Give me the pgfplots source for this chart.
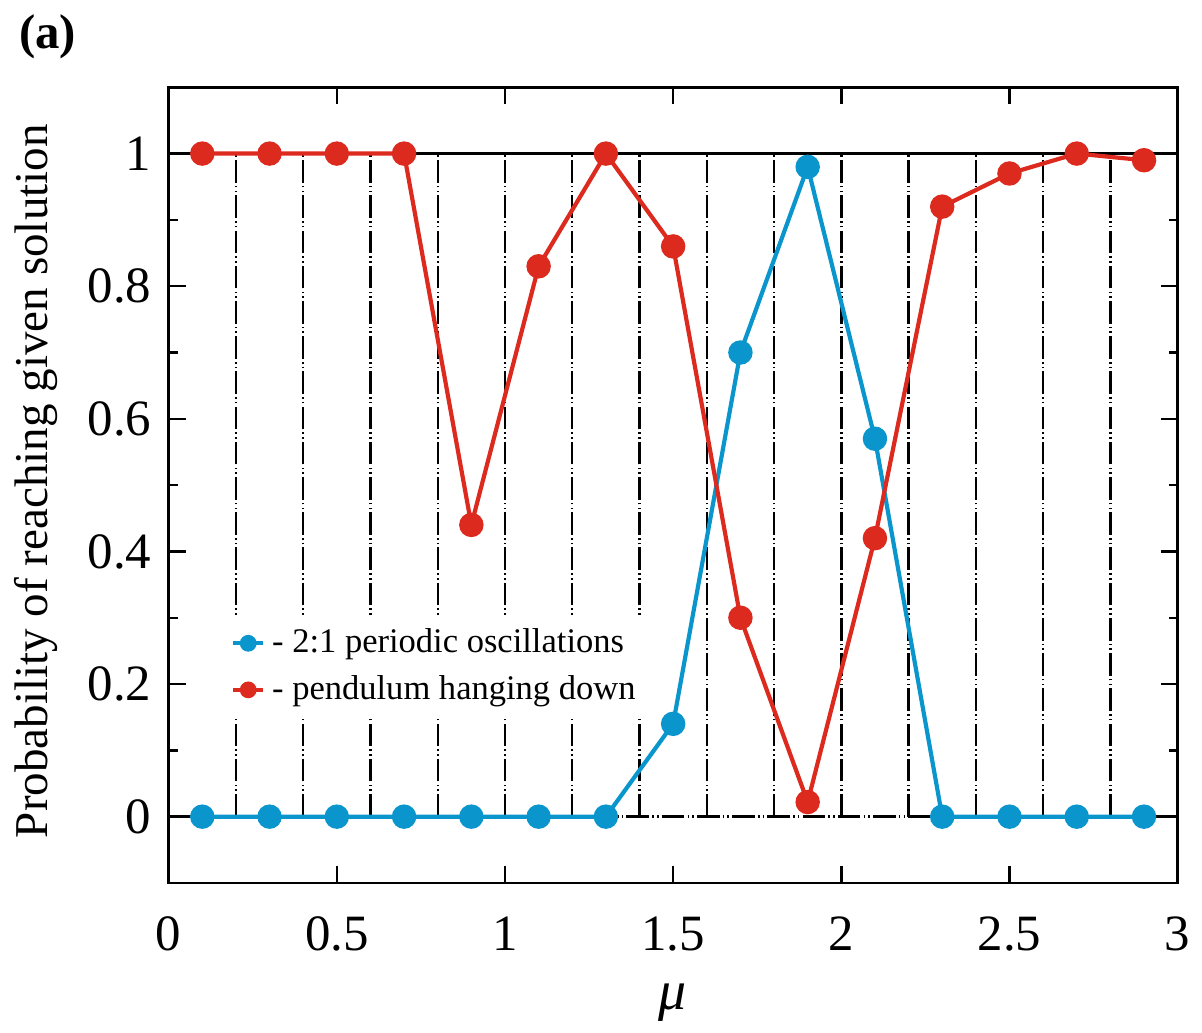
\documentclass[border=0pt]{standalone}
\usepackage{fontspec}
\setmainfont{Liberation Serif}
\usepackage{pgfplots}
\pgfplotsset{compat=1.18}
\definecolor{cblue}{RGB}{10,150,205}
\definecolor{cred}{RGB}{220,42,30}
\begin{document}
\begin{tikzpicture}
\begin{axis}[
  width=10.17cm, height=8.02cm, scale only axis,
  xmin=0, xmax=3, ymin=-0.1, ymax=1.1,
  xtick={0,0.5,1,1.5,2,2.5,3},
  xticklabels={0,0.5,1,1.5,2,2.5,3},
  ytick={0,0.2,0.4,0.6,0.8,1},
  yticklabels={0,0.2,0.4,0.6,0.8,1},
  minor ytick={-0.1,0.1,0.3,0.5,0.7,0.9,1.1},
  tick align=inside,
  major tick length=0.17cm, minor tick length=0.09cm,
  tick style={black, line width=0.7pt},
  axis line style={black, line width=0.8pt},
  ticklabel style={font=\fontsize{14.6}{16}\selectfont},
  yticklabel style={xshift=-0.05cm},
  xticklabel style={yshift=-0.22cm},
  xlabel={\textit{μ}},
  ylabel={Probability of reaching given solution},
  xlabel style={font=\fontsize{16}{18}\selectfont, at={(axis description cs:0.4995,-0.15)}, anchor=center},
  ylabel style={font=\fontsize{13.5}{16}\selectfont, at={(axis description cs:-0.1318,0.505)}, anchor=center},
  legend style={draw=none, fill=white, at={(axis description cs:0.051,0.338)}, anchor=north west,
     font=\fontsize{9.9}{12}\selectfont, row sep=1pt, inner xsep=3pt, inner ysep=2pt},
  legend cell align=left,
  legend image code/.code={
     \draw[#1, mark=none, line width=1.2pt] (0cm,0cm) -- (0.30cm,0cm);
     \draw[#1, mark size=1.8pt] plot coordinates {(0.15cm,0cm)};
  },
  clip=false,
]
% vertical dash-dot-dot lines
\addplot[forget plot, ycomb, black, line width=0.7pt,
  dash pattern=on 6.5pt off 0.9pt on 0.45pt off 0.9pt on 0.45pt off 0.9pt]
  coordinates {(0.2,1)(0.4,1)(0.6,1)(0.8,1)(1.0,1)(1.2,1)(1.4,1)(1.6,1)(1.8,1)(2.0,1)(2.2,1)(2.4,1)(2.6,1)(2.8,1)};
\addplot[forget plot, black, line width=0.8pt] coordinates {(0,1)(3,1)};
\addplot[forget plot, black, line width=0.7pt,
  dash pattern=on 6.5pt off 0.9pt on 0.45pt off 0.9pt on 0.45pt off 0.9pt]
  coordinates {(0,0)(3,0)};
\addplot[cblue, line width=1.2pt, mark=*, mark size=2.9pt, mark options={solid, fill=cblue, draw=cblue}]
  coordinates {(0.1,0)(0.3,0)(0.5,0)(0.7,0)(0.9,0)(1.1,0)(1.3,0)(1.5,0.14)(1.7,0.70)(1.9,0.98)(2.1,0.57)(2.3,0)(2.5,0)(2.7,0)(2.9,0)};
\addlegendentry{- 2:1 periodic oscillations}
\addplot[cred, line width=1.2pt, mark=*, mark size=2.9pt, mark options={solid, fill=cred, draw=cred}]
  coordinates {(0.1,1)(0.3,1)(0.5,1)(0.7,1)(0.9,0.44)(1.1,0.83)(1.3,1)(1.5,0.86)(1.7,0.30)(1.9,0.022)(2.1,0.42)(2.3,0.92)(2.5,0.97)(2.7,1.0)(2.9,0.99)};
\addlegendentry{- pendulum hanging down}
\node[font=\bfseries\fontsize{14}{16}\selectfont] at (axis description cs:-0.12,1.064) {(a)};
\end{axis}
\path[use as bounding box] ([shift={(-1.70cm,-1.24cm)}]current axis.south west) rectangle ([shift={(0.15cm,0.88cm)}]current axis.north east);
\end{tikzpicture}
\end{document}
